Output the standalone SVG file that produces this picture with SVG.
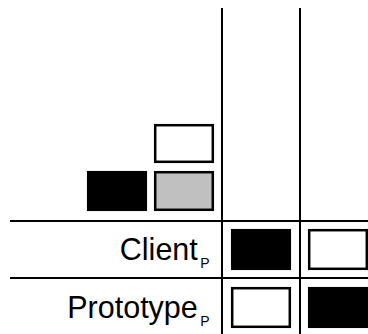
<svg xmlns="http://www.w3.org/2000/svg" width="368" height="334" viewBox="0 0 368 334">
<style>
.ln{stroke:#000;stroke-width:2;fill:none}
.b{stroke:#000;stroke-width:2.5}
.w{fill:#fff}.k{fill:#000}.g{fill:#c0c0c0}
.t{font-family:"Liberation Sans",Arial,sans-serif;font-size:30.5px;fill:#000}
.s{font-size:14px}
</style>
<rect width="368" height="334" fill="#fff"/>
<g id="connectors">
<line class="ln" x1="222" y1="8" x2="222" y2="334"/>
<line class="ln" x1="300" y1="8" x2="300" y2="334"/>
<line class="ln" x1="10" y1="221" x2="368" y2="221"/>
<line class="ln" x1="10" y1="278" x2="368" y2="278"/>
</g>
<g id="top-white"><rect class="b w" x="155.2" y="125.2" width="57.6" height="36.6"/></g>
<g id="top-black"><rect class="b k" x="88.2" y="172.2" width="57.6" height="37.6"/></g>
<g id="top-gray"><rect class="b g" x="155.2" y="172.2" width="57.6" height="37.6"/></g>
<g id="label-client"><text class="t" x="197.8" y="260" text-anchor="end">Client</text><text class="t s" x="200.2" y="268">P</text></g>
<g id="label-prototype"><text class="t" x="197.8" y="318" text-anchor="end">Prototype</text><text class="t s" x="200.2" y="325.5">P</text></g>
<g id="cell-1-1"><rect class="b k" x="232.2" y="230.2" width="57.6" height="38.6"/></g>
<g id="cell-1-2"><rect class="b w" x="309.2" y="230.2" width="57.6" height="38.6"/></g>
<g id="cell-2-1"><rect class="b w" x="232.2" y="288.2" width="57.6" height="38.6"/></g>
<g id="cell-2-2"><rect class="b k" x="309.2" y="288.2" width="57.6" height="38.6"/></g>
</svg>
